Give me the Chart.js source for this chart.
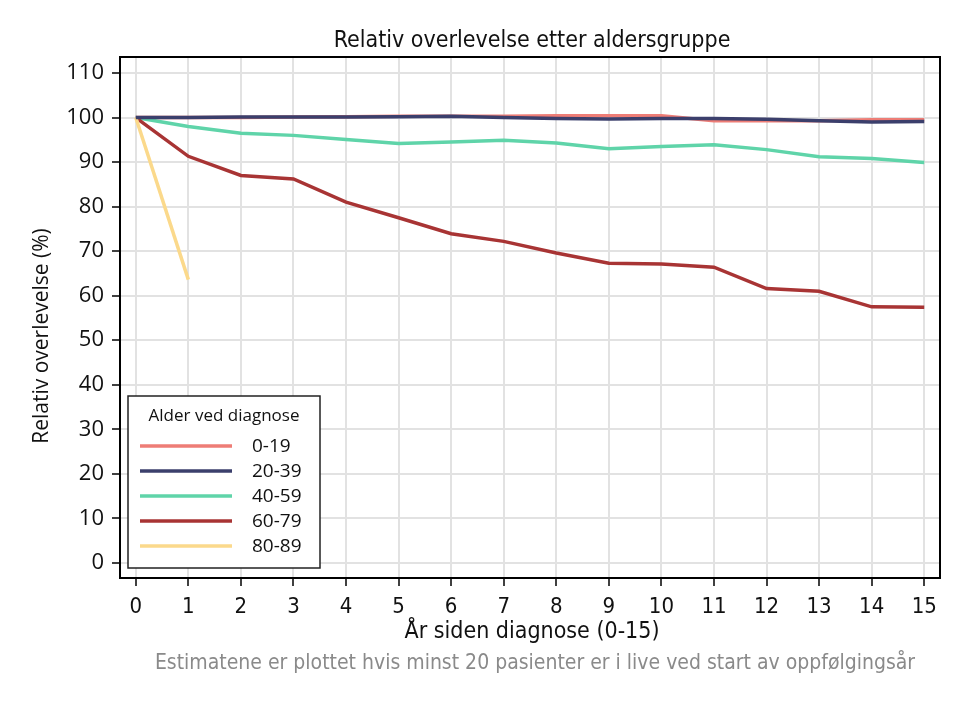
<!DOCTYPE html>
<html>
<head>
<meta charset="utf-8">
<script src="https://cdn.jsdelivr.net/npm/chart.js@4"></script>
<style>
  html, body { margin: 0; padding: 0; background: #fff; }
  #wrap { width: 970px; height: 706px; }
</style>
</head>
<body>
<div id="wrap"><canvas id="chart" width="970" height="706"></canvas></div>
<script>
// Data
const years = [0, 1, 2, 3, 4, 5, 6, 7, 8, 9, 10, 11, 12, 13, 14, 15];
const ageGroups = ["0-19", "20-39", "40-59", "60-79", "80-89"];
const surv0_19 = [100, 100, 100, 100.1, 100.2, 100.3, 100.3, 100.3, 100.4, 100.4, 100.4, 99.3, 99.3, 99.3, 99.5, 99.5];
const surv20_39 = [100, 100, 100.1, 100.1, 100.1, 100.2, 100.3, 100, 99.8, 99.7, 99.8, 99.8, 99.6, 99.3, 99.0, 99.1];
const surv40_59 = [100, 98.0, 96.5, 96.0, 95.1, 94.2, 94.5, 94.9, 94.3, 93.0, 93.5, 93.9, 92.8, 91.2, 90.8, 89.9];
const surv60_79 = [100, 91.3, 87.0, 86.2, 81.0, 77.5, 73.9, 72.2, 69.6, 67.3, 67.1, 66.4, 61.6, 61.0, 57.5, 57.4];
const surv80_89 = [100, 63.6];

const lineColors = ["#ee7d76", "#3b3f6c", "#5fd4a9", "#a83434", "#fbd98b"];

const chartTitle = "Relativ overlevelse etter aldersgruppe";
const xTitle = "År siden diagnose (0-15)";
const yTitle = "Relativ overlevelse (%)";
const footnote = "Estimatene er plottet hvis minst 20 pasienter er i live ved start av oppfølgingsår";
const legendTitle = "Alder ved diagnose";

const narrow = "'Liberation Sans Narrow', 'DejaVu Sans Condensed', sans-serif";
const normal = "'Open Sans', 'Noto Sans', sans-serif";

const allSeries = [surv0_19, surv20_39, surv40_59, surv60_79, surv80_89];

const datasets = allSeries.map((vals, i) => ({
  label: ageGroups[i],
  data: vals.map((v, j) => ({ x: years[j], y: v })),
  borderColor: lineColors[i],
  backgroundColor: lineColors[i],
  borderWidth: 3.5,
  pointRadius: 0,
  tension: 0,
  fill: false
}));
// draw the darker lines over the lighter ones like the reference
datasets.forEach((d, i) => { d.order = 5 - i; });
datasets[1].order = 1;

// texts, frame and legend box
const extras = {
  id: "extras",
  afterDatasetsDraw(chart) {
    const ctx = chart.ctx;
    const a = chart.chartArea;
    ctx.save();

    // frame round the plot
    ctx.strokeStyle = "#000";
    ctx.lineWidth = 2;
    ctx.strokeRect(a.left, a.top, a.right - a.left, a.bottom - a.top);

    // legend inside plot
    const bx = 128, by = 396, bw = 192, bh = 172;
    ctx.fillStyle = "#fff";
    ctx.fillRect(bx, by, bw, bh);
    ctx.strokeStyle = "#222";
    ctx.lineWidth = 1.5;
    ctx.strokeRect(bx, by, bw, bh);

    ctx.fillStyle = "#111";
    ctx.textAlign = "center";
    ctx.textBaseline = "middle";
    ctx.font = "17px " + normal;
    ctx.fillText(legendTitle, bx + bw / 2, 416);

    ctx.textAlign = "left";
    ctx.font = "19px " + normal;
    chart.data.datasets.forEach((d, i) => {
      const y = 446 + i * 25;
      ctx.strokeStyle = d.borderColor;
      ctx.lineWidth = 3.5;
      ctx.beginPath();
      ctx.moveTo(140, y);
      ctx.lineTo(232, y);
      ctx.stroke();
      ctx.fillStyle = "#111";
      ctx.fillText(d.label, 252, y + 1);
    });
    ctx.restore();
  },
  afterDraw(chart) {
    const ctx = chart.ctx;
    ctx.save();
    ctx.fillStyle = "#111";
    ctx.textAlign = "center";
    ctx.textBaseline = "middle";

    ctx.font = "23px " + narrow;
    ctx.fillText(chartTitle, 532, 41);

    ctx.font = "23px " + narrow;
    ctx.fillText(xTitle, 532, 632);

    ctx.fillStyle = "#8a8a8a";
    ctx.font = "21px " + narrow;
    ctx.fillText(footnote, 535, 664);

    ctx.fillStyle = "#111";
    ctx.font = "21px " + normal;
    ctx.translate(42, 336);
    ctx.rotate(-Math.PI / 2);
    ctx.fillText(yTitle, 0, 0);
    ctx.restore();
  }
};

new Chart(document.getElementById("chart"),
{
  type: "line",
  data: { datasets: datasets },
  plugins: [extras],
  options:
  {
    responsive: false,
    animation: false,
    devicePixelRatio: 1,
    layout: { padding: { top: 57, right: 30, left: 0, bottom: 0 } },
    plugins:
    {
      legend: { display: false },
      title: { display: false },
      tooltip: { enabled: false }
    },
    scales:
    {
      x:
      {
        type: "linear",
        min: -0.3,
        max: 15.3,
        afterFit(s) { s.height = 128; },
        ticks:
        {
          stepSize: 1,
          includeBounds: false,
          color: "#111",
          padding: 8,
          font: { family: narrow, size: 22 }
        },
        grid: { color: "#e2e2e2", lineWidth: 2, tickColor: "#000", tickLength: 8, tickWidth: 1.5 },
        border: { display: true, color: "#000", width: 2 }
      },
      y:
      {
        min: -3.4,
        max: 113.6,
        afterFit(s) { s.width = 120; },
        ticks:
        {
          stepSize: 10,
          includeBounds: false,
          color: "#111",
          padding: 8,
          font: { family: normal, size: 22 }
        },
        grid: { color: "#e2e2e2", lineWidth: 2, tickColor: "#000", tickLength: 8, tickWidth: 1.5 },
        border: { display: true, color: "#000", width: 2 }
      }
    }
  }
});
</script>
</body>
</html>
